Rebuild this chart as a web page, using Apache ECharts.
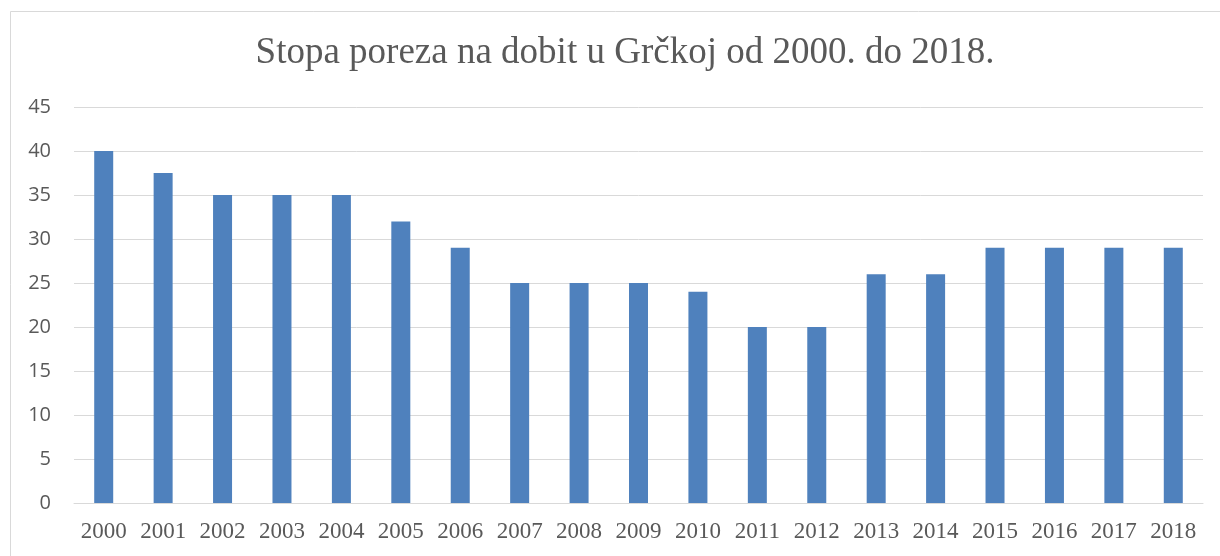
<!DOCTYPE html>
<html>
<head>
<meta charset="utf-8">
<script src="https://cdn.jsdelivr.net/npm/echarts@6/dist/echarts.min.js"></script>
<style>
  html, body { margin: 0; padding: 0; background: #fff; }
  #main { width: 1220px; height: 556px; }
</style>
</head>
<body>
<div id="main"></div>
<script>
// * podaci
let years = ['2000', '2001', '2002', '2003', '2004', '2005', '2006', '2007', '2008', '2009',
    '2010', '2011', '2012', '2013', '2014', '2015', '2016', '2017', '2018'];
let rates = [40, 37.5, 35, 35, 35, 32, 29, 25, 25, 25, 24, 20, 20, 26, 26, 29, 29, 29, 29];

let option = {
    animation: false,
    backgroundColor: '#fff',
    title: {
        text: 'Stopa poreza na dobit u Grčkoj od 2000. do 2018.',
        left: 620,
        textAlign: 'center',
        top: 30,
        textStyle: { fontFamily: 'Liberation Serif', fontSize: 37, fontWeight: 'normal', color: '#595959' }
    },
    graphic: [
        {
            type: 'rect',
            shape: { x: 10.5, y: 11.5, width: 1400, height: 800 },
            style: { fill: 'none', stroke: '#d9d9d9', lineWidth: 1 }
        }
    ],
    grid: { left: 74, right: 17, top: 107, bottom: 53 },
    xAxis: {
        type: 'category',
        data: years,
        axisTick: { show: false },
        axisLine: { lineStyle: { color: '#d9d9d9', width: 1 } },
        axisLabel: {
            interval: 0,
            hideOverlap: false,
            fontFamily: 'Liberation Serif',
            fontSize: 23,
            color: '#595959',
            margin: 17
        }
    },
    yAxis: {
        type: 'value',
        min: 0,
        max: 45,
        interval: 5,
        axisLine: { show: false },
        axisTick: { show: false },
        splitLine: { lineStyle: { color: '#d9d9d9', width: 1 } },
        axisLabel: { fontFamily: 'Open Sans', fontSize: 20, color: '#595959', margin: 23 }
    },
    series: [
        {
            type: 'bar',
            data: rates,
            barWidth: 19,
            itemStyle: { color: '#4f81bd' }
        }
    ]
};

let echartsInstance = echarts.init(document.getElementById('main'));
echartsInstance.setOption(option);
</script>
</body>
</html>
